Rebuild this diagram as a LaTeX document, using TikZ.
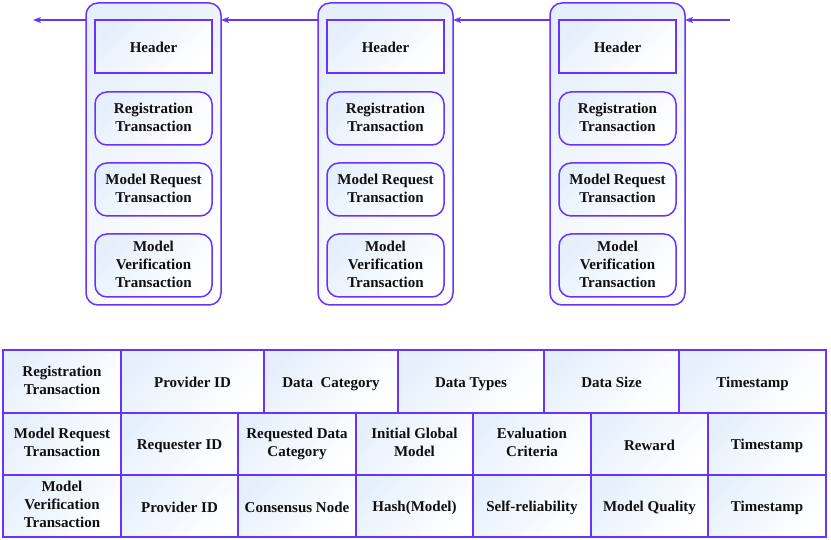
\documentclass[tikz,border=0pt]{standalone}
\usepackage{fontspec}
\setmainfont{Liberation Serif}
\newfontfamily\tfont{Liberation Serif}
\usetikzlibrary{arrows.meta,calc}
\definecolor{vio}{RGB}{102,51,255}
\definecolor{pale}{RGB}{230,240,252}
\definecolor{ink}{RGB}{15,15,15}
\newcommand\topstrut{\rule{0pt}{15.1pt}}
\newcommand\botstrut{\rule[-2.9pt]{0pt}{2.9pt}}
\tikzset{
  shadefill/.style={top color=pale, bottom color=white, shading angle=45},
  txt/.style={font=\tfont\fontsize{15}{18}\selectfont\bfseries, text=ink, align=center, execute at begin node=\topstrut, execute at end node=\botstrut},
  block/.style={draw=vio, line width=1.5pt, shadefill, rounded corners=12pt, minimum width=135pt, minimum height=302pt, inner sep=0pt, outer sep=0pt},
  header/.style={draw=vio, line width=1.5pt, shadefill, minimum width=117pt, minimum height=53pt, inner sep=0pt, outer sep=0pt, txt},
  tx/.style={header, rounded corners=12pt},
  cell/.style={draw=vio, line width=1.5pt, shadefill, inner sep=0pt, outer sep=0pt, txt},
  arr/.style={draw=vio, line width=1.4pt, -{Stealth[length=8pt,width=6pt,inset=2pt]}}
}
\newcommand\tcell[6]{%
  \pgfmathsetmacro\cw{#4-#2}\pgfmathsetmacro\ch{#5-#3}%
  \node[cell, minimum width=\cw pt, minimum height=\ch pt] (#1) at ({(#2+#4)/2},{(#3+#5)/2}) {#6};}
\newcommand\chainblock[2]{% name, x offset
  \begin{scope}[xshift=#2pt]
    \node[block] (#1) at (153.5,154) {};
    \node[header] (#1h) at (153.5,46.5) {Header};
    \node[tx] (#1r) at (153.5,118.5) {Registration\\Transaction};
    \node[tx] (#1q) at (153.5,189.5) {Model Request\\Transaction};
    \node[tx, minimum height=63pt] (#1v) at (153.5,265.5) {Model\\Verification\\Transaction};
  \end{scope}}
\begin{document}
\begin{tikzpicture}[x=1pt,y=-1pt]
\path[fill=white, use as bounding box] (0,0) rectangle (831,540);
\chainblock{ba}{0}
\chainblock{bb}{232}
\chainblock{bc}{464}
\coordinate (src) at (730,20);
\coordinate (dst) at (33,20);
\draw[arr] (src) -- (bc.east |- src);
\draw[arr] (bc.west |- src) -- (bb.east |- src);
\draw[arr] (bb.west |- src) -- (ba.east |- src);
\draw[arr] (ba.west |- src) -- (dst);
% table row 1
\tcell{r1a}{3}{350}{121}{413}{Registration\\Transaction}
\tcell{r1b}{121}{350}{264}{413}{Provider ID}
\tcell{r1c}{264}{350}{398}{413}{Data\ \ Category}
\tcell{r1d}{398}{350}{544}{413}{Data Types}
\tcell{r1e}{544}{350}{679}{413}{Data Size}
\tcell{r1f}{679}{350}{826}{413}{Timestamp}
% row 2
\tcell{r2a}{3}{413}{121}{475}{Model Request\\Transaction}
\tcell{r2b}{121}{413}{238}{475}{Requester ID}
\tcell{r2c}{238}{413}{356}{475}{Requested Data\\Category}
\tcell{r2d}{356}{413}{473}{475}{Initial Global\\Model}
\tcell{r2e}{473}{413}{591}{475}{Evaluation\\Criteria}
\tcell{r2f}{591}{413}{708}{475}{Reward}
\tcell{r2g}{708}{413}{826}{475}{Timestamp}
% row 3
\tcell{r3a}{3}{475}{121}{537}{Model\\Verification\\Transaction}
\tcell{r3b}{121}{475}{238}{537}{Provider ID}
\tcell{r3c}{238}{475}{356}{537}{Consensus Node}
\tcell{r3d}{356}{475}{473}{537}{Hash(Model)}
\tcell{r3e}{473}{475}{591}{537}{Self-reliability}
\tcell{r3f}{591}{475}{708}{537}{Model Quality}
\tcell{r3g}{708}{475}{826}{537}{Timestamp}
\end{tikzpicture}
\end{document}
